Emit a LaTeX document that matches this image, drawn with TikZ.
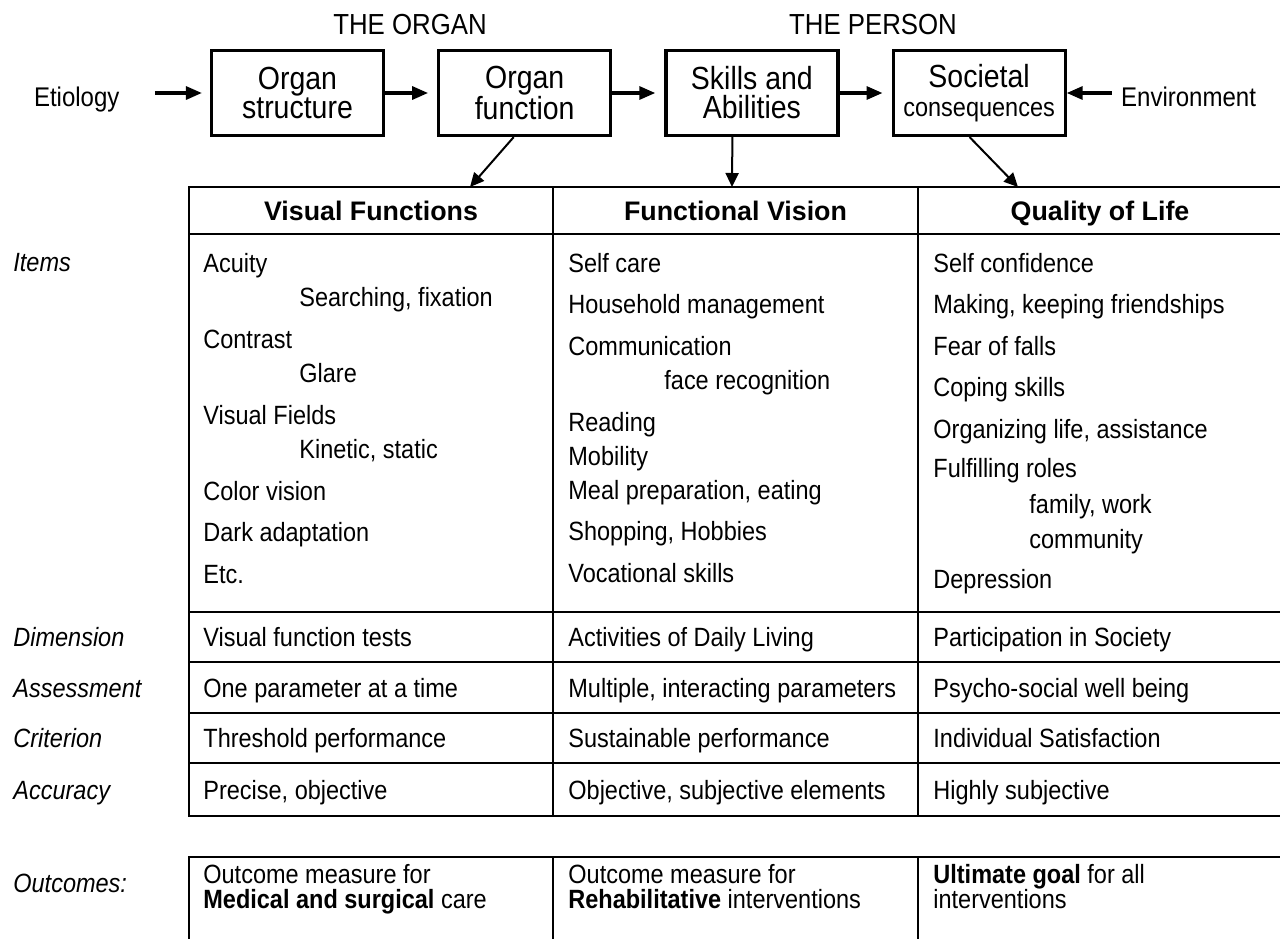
\documentclass[tikz,border=0pt]{standalone}
\usepackage{fontspec}
\setmainfont{Liberation Sans}[FakeStretch=0.89]
\newfontfamily\widesans{Liberation Sans}
\usetikzlibrary{positioning}
\usetikzlibrary{arrows.meta}

\newcommand{\itemsize}{\fontsize{13.2pt}{20.75pt}\selectfont}
\newcommand{\subline}{\hspace*{48pt}}

\begin{document}
\begin{tikzpicture}[
    x=0.5pt, y=-0.5pt,
    stagebox/.style={draw, line width=1.6pt, minimum width=86pt, minimum height=42.5pt, inner sep=0pt, align=center, font={\fontsize{16pt}{14.5pt}\selectfont}},
    sidetext/.style={inner sep=0pt, font={\fontsize{13.5pt}{16pt}\selectfont}, text height=9.7pt, text depth=0pt},
    grouptext/.style={inner sep=0pt, font={\fontsize{14.5pt}{16pt}\selectfont}},
    cellhead/.style={inner sep=0pt, font={\widesans\bfseries\fontsize{13.4pt}{16pt}\selectfont}, text height=9.6pt, text depth=0pt},
    itemcell/.style={anchor=north west, align=left, inner sep=0pt, font=\itemsize},
    rowcell/.style={anchor=west, inner sep=0pt, font=\itemsize, text height=9.5pt, text depth=0pt},
    rowlabel/.style={rowcell, font=\itemsize\itshape},
    outcell/.style={anchor=north west, align=left, inner sep=0pt, font={\fontsize{13.2pt}{12.5pt}\selectfont}},
    flow/.style={-{Triangle[length=8pt,width=6.5pt]}, line width=1.6pt},
    link/.style={-{Triangle[length=7pt,width=6.5pt]}, line width=1pt},
    rule/.style={line width=1.2pt, line cap=rect}
]
\fill[white] (0,0) rectangle (1280,938);
\useasboundingbox (0,0) rectangle (1280,938);

% Stages
\node[stagebox] (os) at (297.5,93) {Organ\\structure};
\node[stagebox, right=26pt of os] (of) {Organ\\function};
\node[stagebox, right=26pt of of] (sa) {Skills and\\Abilities};
\node[stagebox, right=26pt of sa] (sc) {Societal\\{\fontsize{13.2pt}{14.5pt}\selectfont consequences}};
\node[sidetext, left=45pt of os, yshift=-2pt] (etio) {Etiology};
\node[sidetext, right=27pt of sc, yshift=-2pt] (env) {Environment};
\node[grouptext] (organ) at (410,25) {THE ORGAN};
\node[grouptext] (person) at (873,25) {THE PERSON};

% Stage arrows
\draw[flow, shorten <=17.5pt, shorten >=4pt] (etio.east |- os.west) -- (os.west);
\draw[flow, shorten >=4.5pt] (os) -- (of);
\draw[flow, shorten >=4.5pt] (of) -- (sa);
\draw[flow, shorten >=4.5pt] (sa) -- (sc);
\draw[flow, shorten <=4.5pt] (env.west |- sc.east) -- (sc.east);

% Arrows into the table
\coordinate (vftip) at (470,187);
\coordinate (fvtip) at (732,187);
\coordinate (qltip) at (1018,187);
\draw[link] ([xshift=-5.5pt]of.south) -- (vftip);
\draw[link] ([xshift=-9.75pt]sa.south) -- (fvtip);
\draw[link] ([xshift=-4.75pt]sc.south) -- (qltip);

% Table rules
\draw[rule] (189,187) -- (1280,187);
\draw[rule] (189,234) -- (1280,234);
\draw[rule] (189,612) -- (1280,612);
\draw[rule] (189,662) -- (1280,662);
\draw[rule] (189,713) -- (1280,713);
\draw[rule] (189,763) -- (1280,763);
\draw[rule] (189,816) -- (1280,816);
\draw[rule] (189,187) -- (189,816);
\draw[rule] (553,187) -- (553,816);
\draw[rule] (918,187) -- (918,816);
\draw[rule] (189,945) -- (189,857) -- (1280,857);
\draw[rule] (553,857) -- (553,945);
\draw[rule] (918,857) -- (918,945);

% Column heads
\node[cellhead] (vfh) at (371,210.5) {Visual Functions};
\node[cellhead] (fvh) at (735.5,210.5) {Functional Vision};
\node[cellhead] (qlh) at (1100,210.5) {Quality of Life};

% Items
\node[rowlabel] (items) at (13,262) {Items};
\node[itemcell] (vfi) at (203,252.6) {Acuity\\[-3.5pt]
  \subline Searching, fixation\\
  Contrast\\[-3.5pt]
  \subline Glare\\
  Visual Fields\\[-3.5pt]
  \subline Kinetic, static\\
  Color vision\\
  Dark adaptation\\
  Etc.};
\node[itemcell] (fvi) at (568,252.6) {Self care\\
  Household management\\
  Communication\\[-3.5pt]
  \subline face recognition\\
  Reading\\[-3.75pt]
  Mobility\\[-3.75pt]
  Meal preparation, eating\\
  Shopping, Hobbies\\
  Vocational skills};
\node[itemcell] (qli) at (933,252.6) {Self confidence\\
  Making, keeping friendships\\
  Fear of falls\\
  Coping skills\\
  Organizing life, assistance\\[-1.25pt]
  Fulfilling roles\\[-2.75pt]
  \subline family, work\\[-3.25pt]
  \subline community\\[-0.75pt]
  Depression};

% Rows
\node[rowlabel] (dim) at (13,637) {Dimension};
\node[rowcell] (vfd) at (203,637) {Visual function tests};
\node[rowcell] (fvd) at (568,637) {Activities of Daily Living};
\node[rowcell] (qld) at (933,637) {Participation in Society};

\node[rowlabel] (ass) at (13,688) {Assessment};
\node[rowcell] (vfa) at (203,688) {One parameter at a time};
\node[rowcell] (fva) at (568,688) {Multiple, interacting parameters};
\node[rowcell] (qla) at (933,688) {Psycho-social well being};

\node[rowlabel] (crit) at (13,738) {Criterion};
\node[rowcell] (vfc) at (203,738) {Threshold performance};
\node[rowcell] (fvc) at (568,738) {Sustainable performance};
\node[rowcell] (qlc) at (933,738) {Individual Satisfaction};

\node[rowlabel] (acc) at (13,789.5) {Accuracy};
\node[rowcell] (vfa2) at (203,789.5) {Precise, objective};
\node[rowcell] (fva2) at (568,789.5) {Objective, subjective elements};
\node[rowcell] (qla2) at (933,789.5) {Highly subjective};

% Outcomes
\node[rowlabel] (outc) at (13,883) {Outcomes:};
\node[outcell] (vfo) at (203,864) {Outcome measure for\\\textbf{Medical and surgical} care};
\node[outcell] (fvo) at (568,864) {Outcome measure for\\\textbf{Rehabilitative} interventions};
\node[outcell] (qlo) at (933,864) {\textbf{Ultimate goal} for all\\interventions};

\end{tikzpicture}
\end{document}
